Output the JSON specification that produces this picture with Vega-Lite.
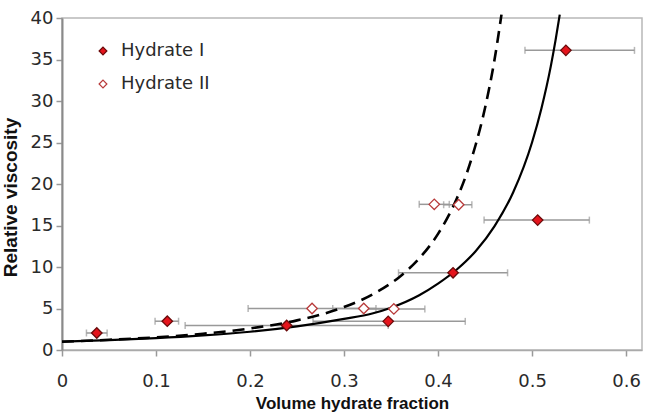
{
  "$schema": "https://vega.github.io/schema/vega-lite/v6.json",
  "width": 580,
  "height": 332,
  "autosize": "none",
  "padding": {"left": 62, "top": 18, "right": 11, "bottom": 62},
  "background": "white",
  "config": {
    "view": {"stroke": "#b8b8b8", "strokeWidth": 1.5},
    "axis": {"grid": false}
  },
  "datasets": {
    "points": [
      {"series": "Hydrate I", "phi": 0.037, "mu": 2.05, "lo": 0.026, "hi": 0.048},
      {"series": "Hydrate I", "phi": 0.112, "mu": 3.47, "lo": 0.099, "hi": 0.124},
      {"series": "Hydrate I", "phi": 0.239, "mu": 2.95, "lo": 0.131, "hi": 0.347},
      {"series": "Hydrate I", "phi": 0.347, "mu": 3.45, "lo": 0.267, "hi": 0.429},
      {"series": "Hydrate I", "phi": 0.416, "mu": 9.3, "lo": 0.358, "hi": 0.474},
      {"series": "Hydrate I", "phi": 0.506, "mu": 15.65, "lo": 0.449, "hi": 0.561},
      {"series": "Hydrate I", "phi": 0.536, "mu": 36.1, "lo": 0.4925, "hi": 0.609},
      {"series": "Hydrate II", "phi": 0.266, "mu": 5.0, "lo": 0.198, "hi": 0.334},
      {"series": "Hydrate II", "phi": 0.321, "mu": 5.0, "lo": 0.288, "hi": 0.354},
      {"series": "Hydrate II", "phi": 0.353, "mu": 4.95, "lo": 0.32, "hi": 0.386},
      {"series": "Hydrate II", "phi": 0.396, "mu": 17.55, "lo": 0.38, "hi": 0.412},
      {"series": "Hydrate II", "phi": 0.422, "mu": 17.5, "lo": 0.406, "hi": 0.436}
    ],
    "solid": [
      {"phi": 0, "mu": 1.0}, {"phi": 0.05, "mu": 1.19}, {"phi": 0.1, "mu": 1.43},
      {"phi": 0.15, "mu": 1.76}, {"phi": 0.2, "mu": 2.2}, {"phi": 0.25, "mu": 2.85},
      {"phi": 0.3, "mu": 3.75}, {"phi": 0.33, "mu": 4.4}, {"phi": 0.35, "mu": 5.1},
      {"phi": 0.38, "mu": 6.6}, {"phi": 0.4, "mu": 8.0}, {"phi": 0.42, "mu": 9.7},
      {"phi": 0.44, "mu": 11.9}, {"phi": 0.46, "mu": 14.9}, {"phi": 0.48, "mu": 19.0},
      {"phi": 0.5, "mu": 25.0}, {"phi": 0.51, "mu": 29.1}, {"phi": 0.52, "mu": 34.2},
      {"phi": 0.525, "mu": 37.3}, {"phi": 0.5295, "mu": 40.4}
    ],
    "dashed": [
      {"phi": 0, "mu": 1.0}, {"phi": 0.05, "mu": 1.23}, {"phi": 0.1, "mu": 1.53},
      {"phi": 0.15, "mu": 1.96}, {"phi": 0.2, "mu": 2.6}, {"phi": 0.25, "mu": 3.57},
      {"phi": 0.3, "mu": 5.17}, {"phi": 0.33, "mu": 6.67}, {"phi": 0.36, "mu": 8.9},
      {"phi": 0.38, "mu": 11.03}, {"phi": 0.4, "mu": 13.99}, {"phi": 0.42, "mu": 18.25},
      {"phi": 0.43, "mu": 21.1}, {"phi": 0.44, "mu": 24.7}, {"phi": 0.45, "mu": 29.15},
      {"phi": 0.46, "mu": 34.9}, {"phi": 0.4675, "mu": 40.4}
    ]
  },
  "layer": [
    {
      "data": {"name": "points"},
      "mark": {
        "type": "errorbar",
        "ticks": {"size": 7, "thickness": 1.5, "color": "#999999"},
        "rule": {"color": "#999999", "strokeWidth": 1.5}
      },
      "encoding": {
        "x": {
          "field": "lo", "type": "quantitative",
          "scale": {"domain": [0, 0.617], "nice": false, "zero": false},
          "title": "Volume hydrate fraction",
          "axis": {
            "values": [0, 0.1, 0.2, 0.3, 0.4, 0.5, 0.6],
            "format": ".1~f",
            "labelFont": "DejaVu Sans", "labelFontSize": 18, "labelColor": "#2a2a2a",
            "labelPadding": 16, "labelFlush": false,
            "tickSize": 6, "tickColor": "#999999", "tickWidth": 1.5,
            "domainColor": "#aaaaaa", "domainWidth": 1.5,
            "titleFont": "Liberation Sans", "titleFontWeight": "bold", "titleFontSize": 17,
            "titleColor": "#111111", "titleY": 58, "titleBaseline": "alphabetic"
          }
        },
        "x2": {"field": "hi"},
        "y": {
          "field": "mu", "type": "quantitative",
          "scale": {"domain": [0, 40], "nice": false},
          "title": "Relative viscosity",
          "axis": {
            "values": [0, 5, 10, 15, 20, 25, 30, 35, 40],
            "labelFont": "DejaVu Sans", "labelFontSize": 18, "labelColor": "#2a2a2a",
            "labelPadding": 3, "labelFlush": false,
            "tickSize": 6, "tickColor": "#999999", "tickWidth": 1.5,
            "domainColor": "#8a8a8a", "domainWidth": 2,
            "titleFont": "Liberation Sans", "titleFontWeight": "bold", "titleFontSize": 19,
            "titleColor": "#111111", "titleX": -46, "titleY": 179,
            "titleBaseline": "alphabetic", "titleAngle": -90, "titleAlign": "center"
          }
        }
      }
    },
    {
      "data": {"name": "solid"},
      "mark": {"type": "line", "color": "#000000", "strokeWidth": 2.2, "interpolate": "monotone"},
      "encoding": {
        "x": {"field": "phi", "type": "quantitative", "title": "Volume hydrate fraction"},
        "y": {"field": "mu", "type": "quantitative", "title": "Relative viscosity"}
      }
    },
    {
      "data": {"name": "dashed"},
      "mark": {"type": "line", "color": "#000000", "strokeWidth": 2.6, "strokeDash": [12, 7], "interpolate": "monotone"},
      "encoding": {
        "x": {"field": "phi", "type": "quantitative", "title": "Volume hydrate fraction"},
        "y": {"field": "mu", "type": "quantitative", "title": "Relative viscosity"}
      }
    },
    {
      "data": {"name": "points"},
      "mark": {"type": "point", "shape": "diamond", "filled": false, "size": 110, "strokeWidth": 1.3, "opacity": 1},
      "encoding": {
        "x": {"field": "phi", "type": "quantitative", "title": "Volume hydrate fraction"},
        "y": {"field": "mu", "type": "quantitative", "title": "Relative viscosity"},
        "fill": {
          "field": "series", "type": "nominal",
          "scale": {"domain": ["Hydrate I", "Hydrate II"], "range": ["#e5141c", "#ffffff"]},
          "legend": {
            "orient": "none", "legendX": 32, "legendY": 24, "title": null,
            "labelFont": "DejaVu Sans", "labelFontSize": 18, "labelColor": "#2a2a2a",
            "rowPadding": 15, "symbolSize": 60, "symbolType": "diamond", "labelOffset": 9,
            "padding": 0, "symbolStrokeWidth": 1.2
          }
        },
        "stroke": {
          "field": "series", "type": "nominal",
          "scale": {"domain": ["Hydrate I", "Hydrate II"], "range": ["#6a0a0a", "#b83a3a"]},
          "legend": {
            "orient": "none", "legendX": 32, "legendY": 24, "title": null,
            "labelFont": "DejaVu Sans", "labelFontSize": 18, "labelColor": "#2a2a2a",
            "rowPadding": 15, "symbolSize": 60, "symbolType": "diamond", "labelOffset": 9,
            "padding": 0, "symbolStrokeWidth": 1.2
          }
        }
      }
    }
  ]
}
